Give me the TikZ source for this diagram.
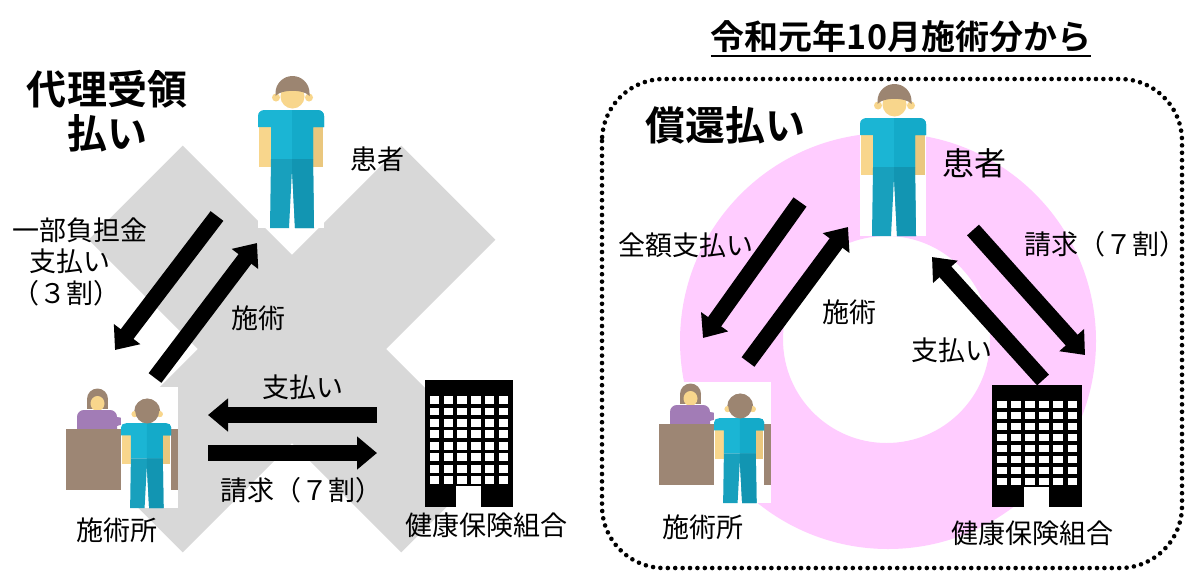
\documentclass[tikz,border=0pt]{standalone}
\usepackage{fontspec}
\setmainfont{Noto Sans CJK JP}[BoldFont={Noto Sans CJK JP Bold}]
\usetikzlibrary{arrows.meta}

\definecolor{xgray}{RGB}{216,216,216}
\definecolor{ringpink}{RGB}{255,204,255}
\definecolor{shirt}{RGB}{27,181,212}
\definecolor{shirtdk}{RGB}{20,170,201}
\definecolor{pants}{RGB}{24,160,189}
\definecolor{pantsdk}{RGB}{18,149,178}
\definecolor{skin}{RGB}{248,214,140}
\definecolor{skindk}{RGB}{234,199,126}
\definecolor{hair}{RGB}{156,133,113}
\definecolor{robe}{RGB}{162,124,182}
\definecolor{desk}{RGB}{157,134,116}

\tikzset{
  lbl/.style={inner sep=0pt, font=\fontsize{27}{31.5}\selectfont},
  biglbl/.style={inner sep=0pt, font=\fontsize{32}{36}\selectfont},
  headline/.style={inner sep=0pt, align=center, font=\bfseries\fontsize{40}{44}\selectfont},
  blockarrow/.style={line width=16pt, -{Triangle[width=32pt,length=20pt]}},
  dotframe/.style={line width=4.6pt, dash pattern=on 0pt off 7.4pt, line cap=round, rounded corners=62pt},
  % standing person, 66 x 153, y downwards; #1 = colour of the face
  pics/person/.style={code={
    \fill[white] (0,0) rectangle (66,153);
    \fill[skin] (18,22.5) circle[radius=4];
    \fill[skin] (51,22.5) circle[radius=4];
    \fill[#1] (34.5,21.5) circle[radius=12];
    \fill[hair] (17.5,21) -- (17.5,18) arc[start angle=180,end angle=360,radius=17]
      -- (51.5,21) .. controls (46,14) and (23,14) .. (17.5,21) -- cycle;
    \fill[skin] (1,50) rectangle (13,92);
    \fill[skindk] (55,50) rectangle (65,92);
    \fill[shirt] (0,52) -- (0,41) .. controls (0,37) and (3,35) .. (7,35) -- (59,35)
      .. controls (63,35) and (66,37) .. (66,41) -- (66,52) -- (55,52) -- (55,84)
      -- (13,84) -- (13,52) -- cycle;
    \fill[shirtdk] (34,35) -- (59,35) .. controls (63,35) and (66,37) .. (66,41)
      -- (66,52) -- (55,52) -- (55,84) -- (34,84) -- cycle;
    \fill[pants] (13,84) -- (55,84) -- (56,153) -- (37,153) -- (34,94) -- (31,153)
      -- (12,153) -- cycle;
    \fill[pantsdk] (34,84) -- (55,84) -- (56,153) -- (37,153) -- (34,94) -- cycle;
  }},
  % reception counter with clerk and visitor seen from behind, 113 x 121
  pics/clinic/.style={code={
    \fill[white] (0,0) rectangle (113,121);
    \fill[hair] (32.5,12) circle[radius=10.5];
    \fill[hair] (22,12) rectangle (43,22);
    \fill[skin] (32.5,16.5) ellipse[x radius=7,y radius=7.5];
    \fill[robe] (12,43) -- (12,30) .. controls (12,26) and (15,23) .. (19,23) -- (45,23)
      .. controls (49,23) and (52,26) .. (52,30) -- (58,31) -- (58,37) -- (52,39)
      -- (52,43) -- cycle;
    \fill[skin] (60,33.5) circle[radius=3.2];
    \fill[desk] (1,42) rectangle (113,103);
    \pic[xscale=0.76,yscale=0.72] at (56,11) {person=hair};
    \fill[skin] (69.5,27) circle[radius=3];
    \fill[skin] (94.8,27) circle[radius=3];
    \fill[hair] (82.2,24) ellipse[x radius=12,y radius=12.5];
  }},
  % office building, 90 x 122
  pics/building/.style={code={
    \fill[black] (0,0) rectangle (90,122);
    \foreach \i in {0,...,5}
      \foreach \j in {0,...,7}
        \fill[white] (5+14.1*\i,15.5+11*\j) rectangle ++(9.5,7.5);
    \fill[white] (32,102) rectangle (57,122);
  }}
}

\begin{document}
\begin{tikzpicture}[x=1pt,y=-1pt]
\useasboundingbox (0,0) rectangle (1185,571);
\fill[white] (0,0) rectangle (1185,571);

% ---------- left: crossed-out scheme ----------
\fill[xgray, rotate around={45:(292,349)}] (71,282.5) rectangle (513,415.5);
\fill[xgray, rotate around={-45:(292,349)}] (71,282.5) rectangle (513,415.5);

\pic (patL) at (258,75) {person=skin};
\pic (cliL) at (65,387) {clinic};
\pic[xscale=88/90,yscale=127/122] (insL) at (425,380) {building};

\node[headline] (hL) at (107,111) {代理受領\\払い};
\node[lbl] (patLtxt) at (377,159) {患者};
\node[lbl, anchor=west, align=left] (payL) at (12,261.5)
  {一部負担金\\\hspace{17pt}支払い\\（３割）};
\node[lbl] (treatL) at (258,318) {施術};
\node[lbl] (remitL) at (303,387) {支払い};
\node[lbl] (claimL) at (301,490) {請求（７割）};
\node[lbl] (cliLtxt) at (117,530) {施術所};
\node[lbl] (insLtxt) at (486,525) {健康保険組合};

\coordinate (a1s) at (217,216); \coordinate (a1e) at (115,350);
\coordinate (a2s) at (155,378); \coordinate (a2e) at (257,243);
\coordinate (a3s) at (377,415); \coordinate (a3e) at (208,415);
\coordinate (a4s) at (208,453); \coordinate (a4e) at (377,453);
\draw[blockarrow] (a1s) -- (a1e);
\draw[blockarrow] (a2s) -- (a2e);
\draw[blockarrow] (a3s) -- (a3e);
\draw[blockarrow] (a4s) -- (a4e);

% ---------- right: new scheme ----------
\node[inner sep=0pt, font=\bfseries\fontsize{34}{38}\selectfont] (title) at (901,37)
  {令和元年10月施術分から};
\draw[line width=2pt] ([yshift=-3pt]title.south west) -- ([yshift=-3pt]title.south east);

\draw[dotframe] (602,79) rectangle (1182,568);

\fill[ringpink, even odd rule] (888,341) circle[radius=208] (886.5,339.5) circle[radius=103.5];

\pic (patR) at (860,83) {person=skin};
\pic (cliR) at (658,382) {clinic};
\pic (insR) at (992,385) {building};

\node[headline] (hR) at (725,125) {償還払い};
\node[biglbl] (patRtxt) at (974,163) {患者};
\node[lbl] (fullR) at (686,245) {全額支払い};
\node[lbl] (treatR) at (849,312) {施術};
\node[lbl] (remitR) at (952,350) {支払い};
\node[lbl] (claimR) at (1105,244) {請求（７割）};
\node[lbl] (cliRtxt) at (703,527) {施術所};
\node[lbl] (insRtxt) at (1032,533) {健康保険組合};

\coordinate (b1s) at (800,202); \coordinate (b1e) at (703,338);
\coordinate (b2s) at (748,362); \coordinate (b2e) at (848,227);
\coordinate (b3s) at (973,230); \coordinate (b3e) at (1085,355);
\coordinate (b4s) at (1043,380); \coordinate (b4e) at (932,257);
\draw[blockarrow] (b1s) -- (b1e);
\draw[blockarrow] (b2s) -- (b2e);
\draw[blockarrow] (b3s) -- (b3e);
\draw[blockarrow] (b4s) -- (b4e);
\end{tikzpicture}
\end{document}
